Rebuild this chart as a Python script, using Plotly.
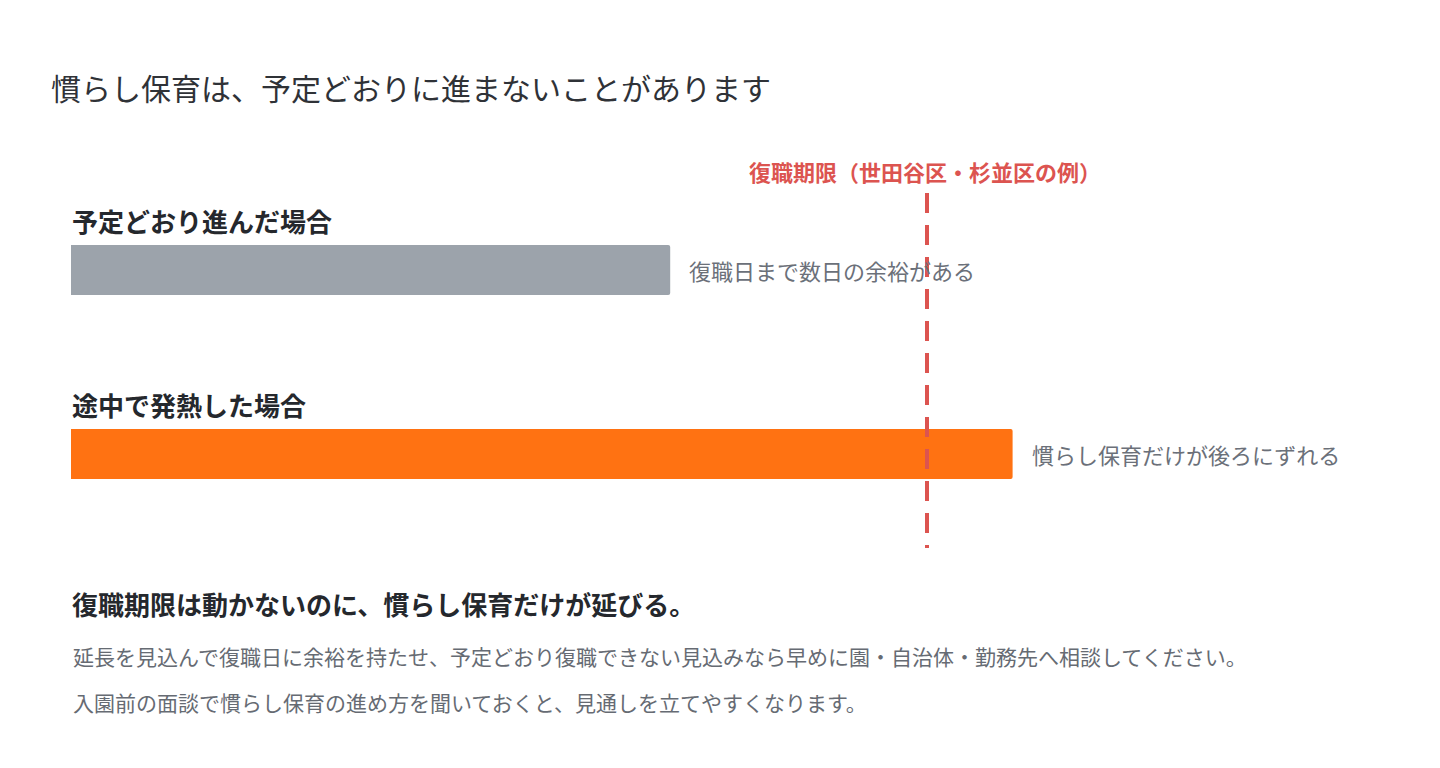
import plotly.graph_objects as go

# 慣らし保育の日数（目安）
scenarios = ["予定どおり進んだ場合", "途中で発熱した場合"]
days = [14, 22]
notes = ["復職日まで数日の余裕がある", "慣らし保育だけが後ろにずれる"]
bar_colors = ["#9ca3ab", "#ff7212"]
deadline = 20
deadline_label = "復職期限（世田谷区・杉並区の例）"

title = "慣らし保育は、予定どおりに進まないことがあります"
summary = "復職期限は動かないのに、慣らし保育だけが延びる。"
body = [
    "延長を見込んで復職日に余裕を持たせ、予定どおり復職できない見込みなら早めに園・自治体・勤務先へ相談してください。",
    "入園前の面談で慣らし保育の進め方を聞いておくと、見通しを立てやすくなります。",
]

PAGE_PAD = 8          # body margin of the html page
W, H = 1440 - 2 * PAGE_PAD, 768 - 2 * PAGE_PAD
FONT = "Noto Sans CJK JP"

# page pixel -> data helpers
px_per_day = 42.8
x0_px = 71
px_per_row = 184
row0_px = 270


def xpx(p):
    return (p - x0_px) / px_per_day


def ypx(p):
    return (p - row0_px) / px_per_row


rows = list(range(len(scenarios)))

fig = go.Figure()
fig.add_trace(go.Bar(
    x=days, y=rows, orientation="h",
    width=50 / px_per_row,
    marker=dict(color=bar_colors, line=dict(width=0), cornerradius=2),
    hoverinfo="skip",
))

# bar labels (above) and notes (right)
for r, name, d, note in zip(rows, scenarios, days, notes):
    fig.add_annotation(x=0, y=r, yshift=50, text=name, showarrow=False,
                       xanchor="left", yanchor="middle", xshift=-1,
                       font=dict(family=FONT, size=26, color="#25282d", weight=700))
    fig.add_annotation(x=d, y=r, text=note, showarrow=False,
                       xanchor="left", yanchor="middle", xshift=17,
                       font=dict(family=FONT, size=22, color="#6b7079"))

# deadline line
fig.add_shape(type="line", x0=deadline, x1=deadline,
              y0=ypx(193), y1=ypx(548), xref="x", yref="y",
              line=dict(color="#dc5450", width=4, dash="20px,12px"), layer="above")
fig.add_annotation(x=deadline, y=ypx(171), text=deadline_label, showarrow=False,
                   xanchor="center", yanchor="middle", xshift=-2,
                   font=dict(family=FONT, size=22, color="#dc5450", weight=700))

# title and footer text
fig.add_annotation(x=xpx(49), y=ypx(87), text=title, showarrow=False,
                   xanchor="left", yanchor="middle",
                   font=dict(family=FONT, size=30, color="#2f3237"))
fig.add_annotation(x=0, y=ypx(603), text=summary, showarrow=False,
                   xanchor="left", yanchor="middle", xshift=-1,
                   font=dict(family=FONT, size=26, color="#25282d", weight=700))
for i, line in enumerate(body):
    fig.add_annotation(x=0, y=ypx(656 + 46 * i), text=line, showarrow=False,
                       xanchor="left", yanchor="middle", xshift=0,
                       font=dict(family=FONT, size=21, color="#666b73"))

fig.update_layout(
    width=W, height=H,
    margin=dict(l=0, r=0, t=0, b=0),
    paper_bgcolor="white", plot_bgcolor="white",
    showlegend=False,
    xaxis=dict(range=[xpx(PAGE_PAD), xpx(PAGE_PAD + W)], visible=False, fixedrange=True),
    yaxis=dict(range=[ypx(PAGE_PAD + H), ypx(PAGE_PAD)], visible=False, fixedrange=True),
)

fig.write_html("out.html", config={"displayModeBar": False})
